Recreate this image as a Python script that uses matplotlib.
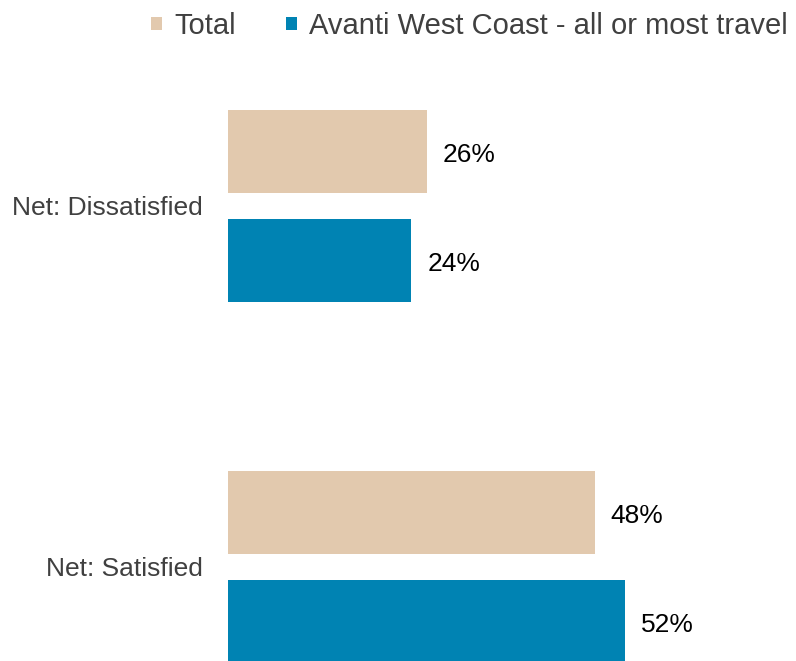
import matplotlib.pyplot as plt
import numpy as np
from matplotlib.patches import Patch

plt.rcParams['font.family'] = ['Liberation Sans', 'DejaVu Sans']

categories = ['Net: Dissatisfied', 'Net: Satisfied']
series_names = ['Total', 'Avanti West Coast - all or most travel']
total = [26, 48]
avanti = [24, 52]
colors = ['#E2C9AE', '#0083B3']

fig = plt.figure(figsize=(7.96, 6.61), dpi=100)
# axes runs from the bar baseline to the right edge, full height
ax = fig.add_axes([228 / 796, 0, 1 - 228 / 796, 1])

y = np.arange(len(categories))
offset = 0.151
height = 0.23

for vals, col, dy in [(total, colors[0], -offset), (avanti, colors[1], offset)]:
    bars = ax.barh(y + dy, vals, height=height, color=col, edgecolor='none')
    for b, v in zip(bars, vals):
        ax.annotate(f'{v}%', (b.get_width(), b.get_y() + b.get_height() / 2),
                    xytext=(11.5, -2.5), textcoords='offset points',
                    va='center', ha='left', fontsize=19, color='black')

ax.set_xlim(0, 568 / 7.64)
ax.set_ylim(1.2604, -0.5706)
ax.set_yticks(y)
ax.set_yticklabels(categories, fontsize=19, color='#404040')
ax.tick_params(axis='y', length=0, pad=18)
ax.set_xticks([])
for s in ax.spines.values():
    s.set_visible(False)

handles = [Patch(facecolor=c, edgecolor='none') for c in colors]
fig.legend(handles, series_names, loc='center right', bbox_to_anchor=(814 / 796, 1 - 26 / 661),
           ncol=2, frameon=False, fontsize=21, labelcolor='#404040',
           handlelength=0.38, handleheight=0.28, handletextpad=0.42, columnspacing=1.7)

fig.savefig('out.png', dpi=100)
